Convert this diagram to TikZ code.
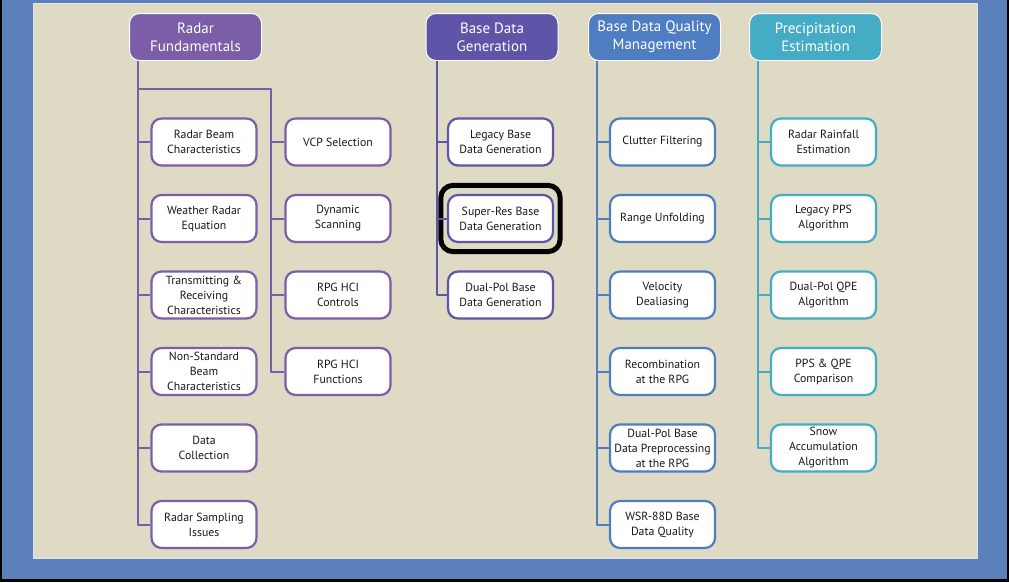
\documentclass[tikz,border=0pt]{standalone}
\usepackage{fontspec}
\setmainfont{PT Sans}
\usetikzlibrary{fit}
\definecolor{frameblue}{HTML}{5B80BC}
\definecolor{panelbeige}{HTML}{DEDAC4}
\definecolor{rfpurple}{HTML}{7B5EA7}
\definecolor{bdgindigo}{HTML}{5E55A8}
\definecolor{bdqblue}{HTML}{4E7DC1}
\definecolor{peteal}{HTML}{45ACC6}
\tikzset{
  head/.style={rounded corners=10pt,draw=white,line width=1pt,minimum width=132pt,minimum height=47pt,
    inner sep=0pt,text=white,align=center,font=\fontsize{15}{18}\selectfont},
  topic/.style={rounded corners=10pt,fill=white,line width=2.2pt,minimum width=105pt,minimum height=47pt,
    inner sep=0pt,align=center,text=black!90,font=\fontsize{11.8}{15}\selectfont},
  rftopic/.style={topic,draw=rfpurple},
  bdgtopic/.style={topic,draw=bdgindigo},
  bdqtopic/.style={topic,draw=bdqblue},
  petopic/.style={topic,draw=peteal},
  link/.style={line width=2pt}
}
\begin{document}
\begin{tikzpicture}[x=1pt,y=-1pt,line join=round]
\useasboundingbox (0,0) rectangle (1009,582);
\fill[black] (0,0) rectangle (1009,582);
\fill[frameblue] (2,0) rectangle (1007,579);
\filldraw[draw=white!80!frameblue,fill=panelbeige,line width=1pt] (33.5,3.5) rectangle (977,558.5);
% headers
\node[head,fill=rfpurple] (rf) at (195.5,37) {Radar\\Fundamentals};
\node[head,fill=bdgindigo] (bdg) at (492,37) {Base Data\\Generation};
\node[head,fill=bdqblue] (bdq) at (654.5,37) {Base Data Quality\\Management};
\node[head,fill=peteal] (pe) at (815.5,37) {Precipitation\\Estimation};
% radar fundamentals
\node[rftopic] (rf1) at (204,142) {Radar Beam\\Characteristics};
\node[rftopic] (rf2) at (204,218.5) {Weather Radar\\Equation};
\node[rftopic] (rf3) at (204,295) {Transmitting \&\\Receiving\\Characteristics};
\node[rftopic] (rf4) at (204,371.5) {Non-Standard\\Beam\\Characteristics};
\node[rftopic] (rf5) at (204,448) {Data\\Collection};
\node[rftopic] (rf6) at (204,524.5) {Radar Sampling\\Issues};
\node[rftopic] (rfb1) at (338,142) {VCP Selection};
\node[rftopic] (rfb2) at (338,218.5) {Dynamic\\Scanning};
\node[rftopic] (rfb3) at (338,295) {RPG HCI\\Controls};
\node[rftopic] (rfb4) at (338,371.5) {RPG HCI\\Functions};
% base data generation
\node[bdgtopic] (bdg1) at (500.5,142) {Legacy Base\\Data Generation};
\node[bdgtopic] (bdg2) at (500.5,218.5) {Super-Res Base\\Data Generation};
\node[bdgtopic] (bdg3) at (500.5,295) {Dual-Pol Base\\Data Generation};
\node[draw=black,line width=5pt,rounded corners=12pt,inner xsep=6pt,inner ysep=8.5pt,fit=(bdg2)] (mark) {};
% base data quality
\node[bdqtopic] (bdq1) at (662.5,142) {Clutter Filtering};
\node[bdqtopic] (bdq2) at (662.5,218.5) {Range Unfolding};
\node[bdqtopic] (bdq3) at (662.5,295) {Velocity\\Dealiasing};
\node[bdqtopic] (bdq4) at (662.5,371.5) {Recombination\\at the RPG};
\node[bdqtopic] (bdq5) at (662.5,448) {Dual-Pol Base\\Data Preprocessing\\at the RPG};
\node[bdqtopic] (bdq6) at (662.5,524.5) {WSR-88D Base\\Data Quality};
% precipitation
\node[petopic] (pe1) at (823.5,142) {Radar Rainfall\\Estimation};
\node[petopic] (pe2) at (823.5,218.5) {Legacy PPS\\Algorithm};
\node[petopic] (pe3) at (823.5,295) {Dual-Pol QPE\\Algorithm};
\node[petopic] (pe4) at (823.5,371.5) {PPS \& QPE\\Comparison};
\node[petopic] (pe5) at (823.5,448) {Snow\\Accumulation\\Algorithm};
% trunks
\coordinate (rft) at (138,0);
\coordinate (rfs) at (271,89);
\coordinate (bdgt) at (437,0);
\coordinate (bdqt) at (597,0);
\coordinate (pet) at (758,0);
\draw[link,rfpurple] (rft |- rf.south) -- (rft |- rf6) -- (rf6.west);
\draw[link,rfpurple] (rft |- rfs) -- (rfs) -- (rfs |- rfb4) -- (rfb4.west);
\draw[link,rfpurple] (rft |- rf1) -- (rf1.west) (rft |- rf2) -- (rf2.west)
  (rft |- rf3) -- (rf3.west) (rft |- rf4) -- (rf4.west) (rft |- rf5) -- (rf5.west);
\draw[link,rfpurple] (rfs |- rfb1) -- (rfb1.west) (rfs |- rfb2) -- (rfb2.west) (rfs |- rfb3) -- (rfb3.west);
\draw[link,bdgindigo] (bdgt |- bdg.south) -- (bdgt |- bdg3) -- (bdg3.west);
\draw[link,bdgindigo] (bdgt |- bdg1) -- (bdg1.west) (bdgt |- bdg2) -- (bdg2.west);
\draw[link,bdqblue] (bdqt |- bdq.south) -- (bdqt |- bdq6) -- (bdq6.west);
\draw[link,bdqblue] (bdqt |- bdq1) -- (bdq1.west) (bdqt |- bdq2) -- (bdq2.west)
  (bdqt |- bdq3) -- (bdq3.west) (bdqt |- bdq4) -- (bdq4.west) (bdqt |- bdq5) -- (bdq5.west);
\draw[link,peteal] (pet |- pe.south) -- (pet |- pe5) -- (pe5.west);
\draw[link,peteal] (pet |- pe1) -- (pe1.west) (pet |- pe2) -- (pe2.west)
  (pet |- pe3) -- (pe3.west) (pet |- pe4) -- (pe4.west);
\end{tikzpicture}
\end{document}
